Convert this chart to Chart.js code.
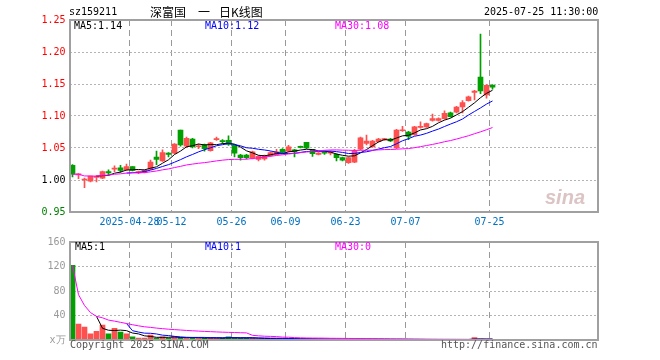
<!DOCTYPE html>
<html>
<head>
<meta charset="utf-8">
<script src="https://cdn.jsdelivr.net/npm/chart.js@4"></script>
<style>
body { margin: 0; background: #fff; }
#wrap { position: relative; width: 660px; height: 360px; overflow: hidden; font-family: "DejaVu Sans Mono", monospace; font-size: 10px; }
#wrap canvas { position: absolute; left: 0; }
.t { position: absolute; white-space: pre; line-height: 12px; z-index: 2; }
.cjk { font-family: "Noto Sans CJK SC", sans-serif; font-size: 12px; line-height: 14px; }
</style>
</head>
<body>
<div id="wrap">
  <canvas id="kline" width="660" height="232" style="top:0"></canvas>
  <canvas id="vol" width="660" height="128" style="top:232px"></canvas>

  <div class="t" style="left:69px;top:6px">sz159211</div>
  <div class="t cjk" style="left:150px;top:5px">深富国</div>
  <div class="t cjk" style="left:198px;top:5px">一</div>
  <div class="t cjk" style="left:219px;top:5px">日K线图</div>
  <div class="t" style="left:484px;top:6px">2025-07-25 11:30:00</div>

  <div class="t" style="left:74px;top:20px;color:#000">MA5:1.14</div>
  <div class="t" style="left:205px;top:20px;color:#0000ff">MA10:1.12</div>
  <div class="t" style="left:335px;top:20px;color:#ff00ff">MA30:1.08</div>

  <div class="t" style="left:545px;top:186px;font:italic bold 20px 'Liberation Sans',sans-serif;line-height:22px;color:#dcc4c4">sina</div>

  <div class="t" style="left:75px;top:241px;color:#000">MA5:1</div>
  <div class="t" style="left:205px;top:241px;color:#0000ff">MA10:1</div>
  <div class="t" style="left:335px;top:241px;color:#ff00ff">MA30:0</div>

  <div class="t" style="left:70px;top:339px;color:#555">Copyright 2025 SINA.COM</div>
  <div class="t" style="left:441px;top:339px;color:#555">http://finance.sina.com.cn</div>
</div>

<script>
// trading days shown (the axis keeps empty slots after the last day)
const dates = [
    '04-14','04-15','04-16','04-17','04-18','04-21','04-22','04-23','04-24','04-25',
    '04-28','04-29','04-30','05-06','05-07','05-08','05-09','05-12','05-13','05-14',
    '05-15','05-16','05-19','05-20','05-21','05-22','05-23','05-26','05-27','05-28',
    '05-29','05-30','06-03','06-04','06-05','06-06','06-09','06-10','06-11','06-12',
    '06-13','06-16','06-17','06-18','06-19','06-20','06-23','06-24','06-25','06-26',
    '06-27','06-30','07-01','07-02','07-03','07-04','07-07','07-08','07-09','07-10',
    '07-11','07-14','07-15','07-16','07-17','07-18','07-21','07-22','07-23','07-24',
    '07-25'
];
const SLOT_COUNT = 88;

const opens = [
    1.023, 1.008, 1.000, 0.998, 1.004, 1.003, 1.013, 1.017, 1.019, 1.016,
    1.021, 1.011, 1.012, 1.017, 1.036, 1.030, 1.042, 1.042, 1.078, 1.053,
    1.064, 1.052, 1.055, 1.046, 1.063, 1.061, 1.062, 1.054, 1.039, 1.039,
    1.034, 1.032, 1.033, 1.038, 1.040, 1.048, 1.045, 1.047, 1.052, 1.059,
    1.048, 1.040, 1.043, 1.042, 1.040, 1.035, 1.027, 1.028, 1.048, 1.057,
    1.052, 1.060, 1.063, 1.064, 1.050, 1.077, 1.075, 1.071, 1.082, 1.083,
    1.093, 1.093, 1.096, 1.105, 1.106, 1.114, 1.124, 1.137, 1.161, 1.133,
    1.148
];
const highs = [
    1.024, 1.010, 1.003, 1.006, 1.007, 1.014, 1.016, 1.022, 1.023, 1.025,
    1.021, 1.014, 1.016, 1.031, 1.045, 1.047, 1.043, 1.057, 1.078, 1.067,
    1.065, 1.056, 1.056, 1.059, 1.067, 1.063, 1.069, 1.055, 1.040, 1.040,
    1.045, 1.038, 1.039, 1.044, 1.048, 1.049, 1.054, 1.048, 1.053, 1.059,
    1.048, 1.043, 1.044, 1.045, 1.041, 1.036, 1.036, 1.048, 1.067, 1.070,
    1.062, 1.065, 1.065, 1.065, 1.079, 1.084, 1.076, 1.084, 1.091, 1.089,
    1.103, 1.097, 1.108, 1.106, 1.115, 1.124, 1.131, 1.140, 1.228, 1.149,
    1.149
];
const lows = [
    1.005, 1.002, 0.988, 0.997, 0.997, 1.002, 1.008, 1.013, 1.012, 1.015,
    1.014, 1.010, 1.011, 1.016, 1.024, 1.029, 1.036, 1.041, 1.053, 1.051,
    1.050, 1.049, 1.045, 1.045, 1.062, 1.057, 1.054, 1.036, 1.031, 1.033,
    1.033, 1.030, 1.031, 1.037, 1.039, 1.042, 1.044, 1.036, 1.050, 1.049,
    1.037, 1.039, 1.040, 1.039, 1.030, 1.030, 1.026, 1.027, 1.047, 1.055,
    1.051, 1.059, 1.062, 1.060, 1.049, 1.076, 1.063, 1.070, 1.081, 1.082,
    1.092, 1.092, 1.095, 1.098, 1.105, 1.105, 1.123, 1.125, 1.135, 1.128,
    1.142
];
const closes = [
    1.009, 1.009, 1.001, 1.006, 1.005, 1.013, 1.011, 1.018, 1.015, 1.021,
    1.015, 1.013, 1.015, 1.028, 1.032, 1.043, 1.040, 1.056, 1.055, 1.065,
    1.052, 1.053, 1.049, 1.058, 1.064, 1.060, 1.056, 1.042, 1.035, 1.035,
    1.044, 1.037, 1.038, 1.043, 1.044, 1.043, 1.052, 1.044, 1.051, 1.050,
    1.041, 1.042, 1.042, 1.043, 1.035, 1.031, 1.035, 1.045, 1.066, 1.061,
    1.061, 1.064, 1.064, 1.061, 1.078, 1.078, 1.068, 1.083, 1.084, 1.088,
    1.096, 1.096, 1.104, 1.099, 1.114, 1.121, 1.130, 1.139, 1.139, 1.148,
    1.145
];
// volume in 万
const volumes = [
    122, 26, 21, 10, 14, 24.5, 10, 19, 13, 10,
    5, 3, 3, 8, 3, 5, 3, 6, 4, 3,
    4, 3, 3, 4, 3, 3, 5, 4, 3, 3,
    3, 2, 2, 2, 2, 2, 2, 1.5, 1.5, 2,
    1.5, 1.2, 1, 1, 1.2, 1.2, 1.2, 1.5, 1.5, 1.2,
    1, 1, 0.8, 0.8, 1, 1, 0.8, 0.8, 0.8, 0.8,
    0.8, 0.8, 0.8, 0.8, 0.8, 0.8, 0.8, 4, 1.5, 0.8,
    0.6
];

const tickDates = ['04-28', '05-12', '05-26', '06-09', '06-23', '07-07', '07-25'];
const tickLabels = ['2025-04-28', '05-12', '05-26', '06-09', '06-23', '07-07', '07-25'];

const UP = '#ff5050';
const DOWN = '#00a000';
const FONT = { family: 'DejaVu Sans Mono', size: 10 };

const labels = dates.concat(new Array(SLOT_COUNT - dates.length).fill(''));
const candleColors = closes.map((c, i) => (c >= opens[i] ? UP : DOWN));

// MA30 uses whatever days exist at the start, MA5/MA10 wait for a full window
function movingAverage(values, n, expanding) {
    return values.map((v, i) => {
        if (i < n - 1 && !expanding) return null;
        const win = values.slice(Math.max(0, i - n + 1), i + 1);
        return win.reduce((a, b) => a + b, 0) / win.length;
    });
}

function vGridColor(ctx) {
    return tickDates.includes(labels[ctx.index]) ? '#999999' : 'rgba(0,0,0,0)';
}

const framePlugin = {
    id: 'frame',
    afterDraw(chart) {
        const a = chart.chartArea;
        const ctx = chart.ctx;
        const l = Math.round(a.left), t = Math.round(a.top);
        const r = Math.round(a.right), b = Math.round(a.bottom);
        ctx.save();
        ctx.strokeStyle = '#a0a0a0';
        ctx.lineWidth = 2;
        ctx.strokeRect(l, t, r - l, b - t);
        ctx.restore();
    }
};

function maLine(data, color) {
    return {
        type: 'line',
        data: data,
        borderColor: color,
        borderWidth: 1,
        pointRadius: 0,
        tension: 0,
        spanGaps: false,
        order: 1
    };
}

function xScale(showLabels) {
    return {
        type: 'category',
        offset: true,
        grid: { offset: true, color: vGridColor, lineWidth: 1, drawTicks: false },
        border: { display: false, dash: [6, 4] },
        ticks: {
            display: showLabels,
            autoSkip: false,
            maxRotation: 0,
            minRotation: 0,
            labelOffset: -3,
            padding: 4,
            color: '#0070c0',
            font: FONT,
            callback: function(value, index) {
                const k = tickDates.indexOf(labels[index]);
                return k >= 0 ? tickLabels[k] : '';
            }
        },
        afterFit: function(scale) { scale.height = 20; }
    };
}

const baseOptions = {
    responsive: false,
    animation: false,
    events: [],
    plugins: { legend: { display: false }, tooltip: { enabled: false } }
};

// price panel
new Chart(document.getElementById('kline').getContext('2d'), {
    type: 'bar',
    data: {
        labels: labels,
        datasets: [
            {
                data: lows.map((l, i) => [l, highs[i]]),
                backgroundColor: candleColors,
                barThickness: 1,
                grouped: false,
                minBarLength: 1,
                order: 3
            },
            {
                data: opens.map((o, i) => [Math.min(o, closes[i]), Math.max(o, closes[i])]),
                backgroundColor: candleColors,
                barThickness: 5,
                grouped: false,
                minBarLength: 1,
                order: 2
            },
            maLine(movingAverage(closes, 30, true), '#ff00ff'),
            maLine(movingAverage(closes, 10, false), '#0000ff'),
            maLine(movingAverage(closes, 5, false), '#000000')
        ]
    },
    options: Object.assign({}, baseOptions, {
        layout: { padding: { top: 20, right: 62.5, left: 0, bottom: 0 } },
        scales: {
            x: xScale(true),
            y: {
                min: 0.95,
                max: 1.25,
                grid: { color: '#b4b4b4', drawTicks: false },
                border: { display: false, dash: [2, 2] },
                ticks: {
                    stepSize: 0.05,
                    padding: 4,
                    font: FONT,
                    callback: v => v.toFixed(2),
                    color: ctx => {
                        const v = ctx.tick.value;
                        if (v > 1.0001) return '#ff0000';
                        if (v < 0.9999) return '#008000';
                        return '#000000';
                    }
                },
                afterFit: function(scale) { scale.width = 69.5; }
            }
        }
    }),
    plugins: [framePlugin]
});

// volume panel
new Chart(document.getElementById('vol').getContext('2d'), {
    type: 'bar',
    data: {
        labels: labels,
        datasets: [
            {
                data: volumes,
                backgroundColor: candleColors,
                barThickness: 5,
                grouped: false,
                order: 2
            },
            maLine(movingAverage(volumes, 30, true), '#ff00ff'),
            maLine(movingAverage(volumes, 10, false), '#0000ff'),
            maLine(movingAverage(volumes, 5, false), '#000000')
        ]
    },
    options: Object.assign({}, baseOptions, {
        layout: { padding: { top: 8, right: 62.5, left: 0, bottom: 0 } },
        scales: {
            x: xScale(false),
            y: {
                min: 0,
                max: 160,
                grid: { color: '#b4b4b4', drawTicks: false },
                border: { display: false, dash: [2, 2] },
                ticks: {
                    stepSize: 40,
                    padding: 4,
                    font: FONT,
                    color: '#999',
                    callback: v => (v === 0 ? 'x万' : v)
                },
                afterFit: function(scale) { scale.width = 69.5; }
            }
        }
    }),
    plugins: [framePlugin]
});
</script>
</body>
</html>
